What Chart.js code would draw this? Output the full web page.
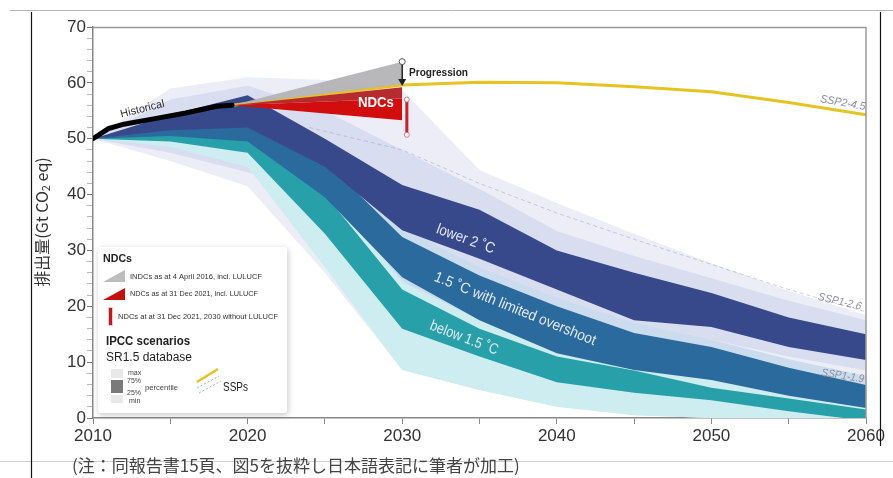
<!DOCTYPE html>
<html><head><meta charset="utf-8">
<script src="https://cdn.jsdelivr.net/npm/chart.js@4"></script>
<style>html,body{margin:0;padding:0;background:#fff;overflow:hidden}canvas{display:block}</style>
</head><body>
<canvas id="c" width="893" height="478"></canvas>
<script>
// ---------- DATA ----------
const years = [2010, 2015, 2020, 2025, 2030, 2035, 2040, 2045, 2050, 2055, 2060];
// SR1.5 database envelopes (min–max)
const allMax    = [50, 59, 61, 60.5, 58.7, 44.4, 38.5, 33, 27.7, 22.8, 18.4];
const allMin    = [50, 46, 41.5, 26, 8.6, 5, 2, 0.5, 0, -1, -1.6];
const lower2Max = [50, 57, 59.5, 55, 48, 41, 33.5, 29, 25, 21, 17.5];
const lower2Min = [50, 47.5, 44, 40, 29, 24, 20.5, 16, 14, 11, 8.5];
const overMax   = [50, 52.5, 54, 47.5, 34, 27, 21.5, 17, 14, 10.5, 7.5];
const overMin   = [50, 48.5, 45.5, 35, 21, 13, 9, 6.5, 4.5, 2, 0];
const belowMax  = [50, 52, 52.5, 41, 24.5, 17.5, 12.5, 10, 7, 5, 3];
const belowMin  = [50, 48.5, 45, 27, 8.6, 5, 2, 0.5, 0, -1, -1.6];
// 25–75 percentile bands
const lower2P75 = [50, 54.3, 57.8, 50, 41.7, 37.3, 30, 26, 22.4, 18, 15];
const lower2P25 = [50, 51.5, 52, 45, 33.6, 28.5, 23, 17.5, 16.3, 12.7, 10.4];
const overP75   = [50, 52, 52.5, 46, 32.4, 25.5, 20, 15.2, 12.7, 9, 5.9];
const overP25   = [50, 50.5, 49.5, 39.5, 25.2, 17.5, 11.6, 8.6, 6.8, 4, 1.8];
const belowP75  = [50, 51, 51.5, 40, 23, 16, 11, 8.5, 5.4, 3.5, 1.5];
const belowP25  = [50, 49.5, 47.5, 33, 16, 11, 6.4, 4.5, 3.2, 1.2, -0.5];
// SSP lines
const ssp126Years = [2024, 2030, 2035, 2040, 2045, 2050, 2055, 2060];
const ssp126      = [52, 48, 42, 36.7, 32, 27.5, 23, 19];
const ssp245Years = [2019, 2030, 2035, 2040, 2045, 2050, 2055, 2060];
const ssp245      = [56, 59.6, 60.1, 60.0, 59.3, 58.4, 56.5, 54.3];
// Historical
const histYears = [2010, 2011, 2012, 2014, 2016, 2018, 2019];
const hist      = [50, 51.8, 52.6, 53.6, 54.6, 55.8, 56];
// NDC fans
const fanYears = [2019, 2030];
const indcTop  = [56, 63.8];
const indcBot  = [56, 59.8];
const ndcTop   = [56, 59.2];
const ndcMid   = [56, 57.2];
const ndcBot   = [56, 53.3];
// Progression arrow and NDC 2030 without LULUCF bar
const progYears = [2030, 2030];
const prog      = [63.8, 59.8];
const barYears  = [2030.3, 2030.3];
const bar       = [57, 50.7];
// axis ticks
const xTickLabels = [2010, 2020, 2030, 2040, 2050, 2060];
const yTickLabels = [0, 10, 20, 30, 40, 50, 60, 70];

// ---------- build datasets ----------
const pts = (xs, ys) => xs.map((x, i) => ({x: x, y: ys[i]}));
const T = 'rgba(0,0,0,0)';
const datasets = [];
function addBand(xs, hi, lo, color, order) {
  datasets.push({data: pts(xs, hi), fill: '+1', backgroundColor: color, borderColor: T, borderWidth: 0, pointRadius: 0, order: order});
  datasets.push({data: pts(xs, lo), fill: false, borderColor: T, borderWidth: 0, pointRadius: 0, order: order});
}
addBand(years, allMax, allMin, '#ecedf7', 20);
addBand(years, lower2Max, lower2Min, '#d9ddf0', 19);
addBand(years, overMax, overMin, '#cbdcee', 18);
addBand(years, belowMax, belowMin, '#cdedf0', 17);
datasets.push({data: pts(ssp126Years, ssp126), borderColor: 'rgba(150,150,185,0.45)', borderWidth: 1, borderDash: [4, 3], pointRadius: 0, fill: false, order: 16});
addBand(years, belowP75, belowP25, '#27a0a9', 15);
addBand(years, overP75, overP25, '#2b6a9c', 14);
addBand(years, lower2P75, lower2P25, '#37498a', 13);
datasets.push({data: pts(ssp245Years, ssp245), borderColor: '#e6c323', borderWidth: 3, pointRadius: 0, fill: false, order: 12.5});
addBand(fanYears, indcTop, indcBot, 'rgba(180,180,182,0.95)', 12);
addBand(fanYears, ndcTop, ndcMid, '#b52b2e', 11);
addBand(fanYears, ndcMid, ndcBot, '#d20d0d', 10);
datasets.push({data: pts(histYears, hist), borderColor: '#000', borderWidth: 5, pointRadius: 0, fill: false, order: 8, borderCapStyle: 'round'});
datasets.push({data: pts(progYears, prog), borderColor: '#222', borderWidth: 1.5, pointRadius: [3, 0], pointBackgroundColor: '#fff', pointBorderColor: '#555', pointBorderWidth: 1, fill: false, order: 7});
datasets.push({data: pts(barYears, bar), borderColor: '#c8202c', borderWidth: 3, pointRadius: 2.5, pointBackgroundColor: '#fff', pointBorderColor: '#d77', pointBorderWidth: 1, fill: false, order: 6});

// ---------- text annotations (anchored in data units) ----------
const bandLabels = [
  {t: 'lower 2 ˚C', x: 2034.1, y: 32.0, rot: 20, w: 61},
  {t: '1.5 ˚C with limited overshoot', x: 2037.3, y: 19.5, rot: 22, w: 173},
  {t: 'below 1.5 ˚C', x: 2034.0, y: 14.3, rot: 21, w: 72}
];
const sspLabels = [
  {t: 'SSP2-4.5', x: 2058.5, y: 56.4, rot: 10, w: 46},
  {t: 'SSP1-2.6', x: 2058.3, y: 20.8, rot: 13, w: 44},
  {t: 'SSP1-1.9', x: 2058.5, y: 7.5, rot: 9, w: 43}
];

const SANS = "'Liberation Sans', Arial, sans-serif";
const NARROW = "'Liberation Sans Narrow', 'Liberation Sans', Arial, sans-serif";
const CJK = "'Noto Sans CJK JP', 'Noto Sans', sans-serif";

function txt(ctx, s, x, y, o) {
  ctx.save();
  ctx.translate(x, y);
  if (o.rot) ctx.rotate(o.rot * Math.PI / 180);
  ctx.font = o.font;
  ctx.fillStyle = o.color || '#333';
  ctx.textAlign = o.align || 'center';
  ctx.textBaseline = o.base || 'middle';
  if (o.w) ctx.fillText(s, 0, 0, o.w); else ctx.fillText(s, 0, 0);
  ctx.restore();
}

const overlay = {
  id: 'overlay',
  afterDraw(chart) {
    const ctx = chart.ctx, X = chart.scales.x, Y = chart.scales.y, a = chart.chartArea;
    const px = v => X.getPixelForValue(v), py = v => Y.getPixelForValue(v);
    ctx.save();
    // plot frame (top and right)
    ctx.strokeStyle = '#999'; ctx.lineWidth = 1.5;
    ctx.beginPath(); ctx.moveTo(a.left, a.top + 0.5); ctx.lineTo(a.right, a.top + 0.5); ctx.lineTo(a.right, a.bottom); ctx.stroke();
    // page frame lines
    ctx.strokeStyle = '#b5b5b5'; ctx.lineWidth = 1;
    ctx.beginPath(); ctx.moveTo(10, 10.5); ctx.lineTo(893, 10.5); ctx.stroke();
    ctx.strokeStyle = '#d0d0d0';
    ctx.beginPath(); ctx.moveTo(0, 461.5); ctx.lineTo(893, 461.5); ctx.stroke();
    ctx.strokeStyle = '#111'; ctx.lineWidth = 1.2;
    ctx.beginPath(); ctx.moveTo(31.5, 12); ctx.lineTo(31.5, 478); ctx.stroke();
    ctx.beginPath(); ctx.moveTo(880.5, 12); ctx.lineTo(880.5, 446); ctx.stroke();

    // progression arrowhead
    const ax = px(progYears[1]), ay = py(prog[1]) + 2;
    ctx.fillStyle = '#222';
    ctx.beginPath(); ctx.moveTo(ax - 4, ay - 7); ctx.lineTo(ax + 4, ay - 7); ctx.lineTo(ax, ay); ctx.closePath(); ctx.fill();

    // in-plot labels
    bandLabels.forEach(l => txt(ctx, l.t, px(l.x), py(l.y), {font: '15px ' + NARROW, color: '#e3e8f2', rot: l.rot, w: l.w}));
    sspLabels.forEach(l => txt(ctx, l.t, px(l.x), py(l.y), {font: 'italic 11px ' + NARROW, color: '#8d8fa0', rot: l.rot, w: l.w}));
    txt(ctx, 'NDCs', px(2028.3), py(56.4), {font: 'bold 15px ' + SANS, color: '#fff', w: 36});
    txt(ctx, 'Progression', px(2030.44), py(61.8), {font: 'bold 11px ' + SANS, color: '#222', align: 'left', w: 59});
    txt(ctx, 'Historical', px(2013.2), py(55.3), {font: '11px ' + SANS, color: '#333', rot: -14, w: 45});

    // legend box
    ctx.save();
    ctx.shadowColor = 'rgba(0,0,0,0.22)'; ctx.shadowBlur = 6; ctx.shadowOffsetX = 1; ctx.shadowOffsetY = 2;
    ctx.fillStyle = '#fff';
    ctx.beginPath(); ctx.roundRect(98, 247, 189, 166, 3); ctx.fill();
    ctx.restore();
    txt(ctx, 'NDCs', 103, 259, {font: 'bold 11px ' + SANS, color: '#222', align: 'left', w: 29});
    ctx.fillStyle = '#bdbdbd';
    ctx.beginPath(); ctx.moveTo(103, 282); ctx.lineTo(125, 270); ctx.lineTo(125, 282); ctx.closePath(); ctx.fill();
    ctx.fillStyle = '#c40f0f';
    ctx.beginPath(); ctx.moveTo(103, 300); ctx.lineTo(125, 288); ctx.lineTo(125, 300); ctx.closePath(); ctx.fill();
    ctx.fillStyle = '#f2c9c9'; ctx.fillRect(108, 307, 5, 19);
    ctx.fillStyle = '#b71c24'; ctx.fillRect(109, 308, 3, 17);
    txt(ctx, 'INDCs as at 4 April 2016, incl. LULUCF', 130, 277, {font: '8px ' + SANS, color: '#333', align: 'left', w: 132});
    txt(ctx, 'NDCs as at 31 Dec 2021, incl. LULUCF', 130, 294, {font: '8px ' + SANS, color: '#333', align: 'left', w: 128});
    txt(ctx, 'NDCs at at 31 Dec 2021, 2030 without LULUCF', 118, 317, {font: '8px ' + SANS, color: '#333', align: 'left', w: 160});
    txt(ctx, 'IPCC scenarios', 106, 342, {font: 'bold 12px ' + SANS, color: '#222', align: 'left', w: 84});
    txt(ctx, 'SR1.5 database', 106, 358, {font: '12.5px ' + SANS, color: '#222', align: 'left', w: 86});
    ctx.fillStyle = '#e9e9e9'; ctx.fillRect(111, 369, 12, 9);
    ctx.fillStyle = '#7a7a7a'; ctx.fillRect(111, 380, 12, 13);
    ctx.fillStyle = '#e9e9e9'; ctx.fillRect(111, 395, 12, 8);
    txt(ctx, 'max', 128, 373, {font: '7px ' + SANS, color: '#444', align: 'left'});
    txt(ctx, '75%', 127, 381, {font: '7px ' + SANS, color: '#444', align: 'left'});
    txt(ctx, '25%', 127, 393, {font: '7px ' + SANS, color: '#444', align: 'left'});
    txt(ctx, 'min', 129, 401, {font: '7px ' + SANS, color: '#444', align: 'left'});
    txt(ctx, 'percentile', 145, 388, {font: '8px ' + SANS, color: '#444', align: 'left', w: 33});
    ctx.strokeStyle = '#e6c323'; ctx.lineWidth = 2.5;
    ctx.beginPath(); ctx.moveTo(197, 382); ctx.lineTo(218, 369); ctx.stroke();
    ctx.strokeStyle = '#9fb0d0'; ctx.lineWidth = 1; ctx.setLineDash([2, 2]);
    ctx.beginPath(); ctx.moveTo(197, 388); ctx.lineTo(219, 376); ctx.stroke();
    ctx.beginPath(); ctx.moveTo(199, 393); ctx.lineTo(221, 381); ctx.stroke();
    ctx.setLineDash([]);
    txt(ctx, 'SSPs', 223, 388, {font: '12px ' + SANS, color: '#222', align: 'left', w: 25});

    // y axis title with subscript
    ctx.save();
    ctx.translate(42, 222);
    ctx.rotate(-Math.PI / 2);
    ctx.fillStyle = '#333'; ctx.textBaseline = 'middle'; ctx.textAlign = 'left';
    const f1 = '16px ' + CJK, f2 = '11px ' + CJK;
    const p1 = '排出量(Gt CO', p2 = '2', p3 = ' eq)';
    ctx.font = f1; const w1 = ctx.measureText(p1).width, w3 = ctx.measureText(p3).width;
    ctx.font = f2; const w2 = ctx.measureText(p2).width;
    const total = w1 + w2 + w3, sc = Math.min(1, 169 / total);
    ctx.scale(sc, 1);
    let sx = -total / 2;
    ctx.font = f1; ctx.fillText(p1, sx, 0); sx += w1;
    ctx.font = f2; ctx.fillText(p2, sx, 4); sx += w2;
    ctx.font = f1; ctx.fillText(p3, sx, 0);
    ctx.restore();

    // caption
    txt(ctx, '(注：同報告書15頁、図5を抜粋し日本語表記に筆者が加工)', 72, 466, {font: '17px ' + CJK, color: '#444', align: 'left', w: 523});
    ctx.restore();
  }
};

new Chart(document.getElementById('c'), {
  type: 'line',
  data: {datasets: datasets},
  options: {
    responsive: false,
    devicePixelRatio: 1,
    animation: false,
    events: [],
    layout: {padding: {left: 0, top: 27, right: 27, bottom: 0}},
    elements: {line: {tension: 0}},
    plugins: {legend: {display: false}, tooltip: {enabled: false}},
    scales: {
      x: {
        type: 'linear', min: 2010, max: 2060,
        afterFit: s => { s.height = 60; },
        ticks: {stepSize: 5, autoSkip: false, maxRotation: 0, padding: 2,
          color: '#333', font: {family: SANS, size: 17},
          callback: v => xTickLabels.includes(Math.round(v)) ? String(Math.round(v)) : ''},
        grid: {drawOnChartArea: false, drawTicks: true, tickLength: 6, color: '#888'},
        border: {display: true, color: '#888', width: 1.5}
      },
      y: {
        min: 0, max: 70,
        afterFit: s => { s.width = 93; },
        ticks: {stepSize: 2, autoSkip: false, padding: 1,
          color: '#333', font: {family: SANS, size: 17},
          callback: v => yTickLabels.includes(Math.round(v)) ? String(Math.round(v)) : ''},
        grid: {drawOnChartArea: false, drawTicks: true, tickLength: 6,
          color: c => (c.tick && Math.round(c.tick.value) % 10 === 0) ? '#777' : '#b8b8b8'},
        border: {display: true, color: '#888', width: 1.5}
      }
    }
  },
  plugins: [overlay]
});
</script>
</body></html>
